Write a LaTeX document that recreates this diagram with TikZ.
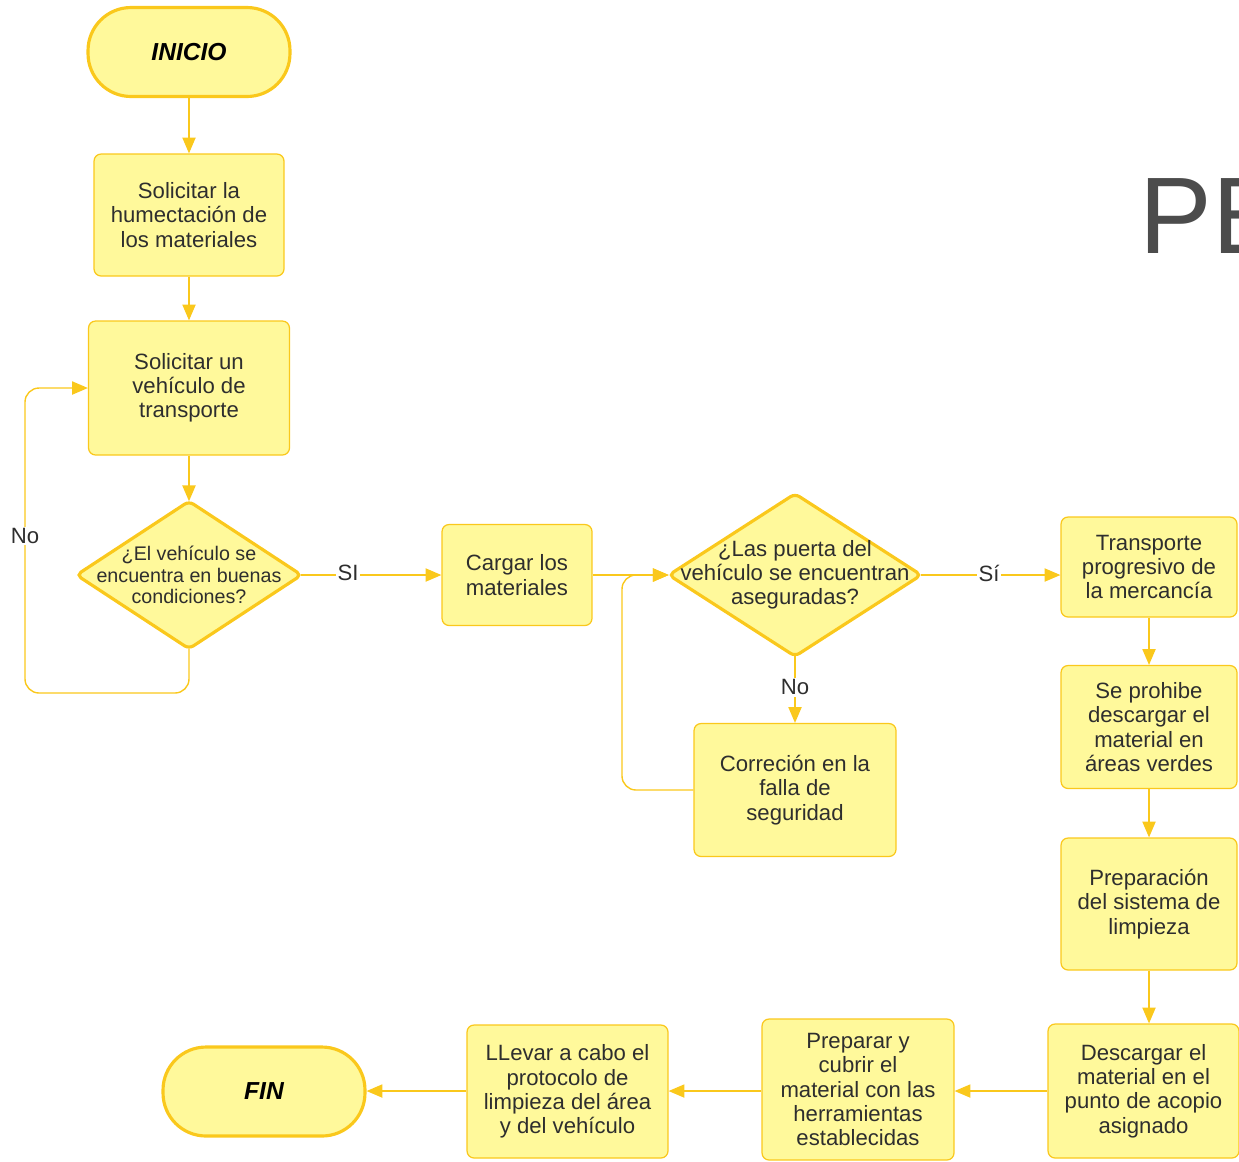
\documentclass[tikz,border=0pt]{standalone}
\usepackage{fontspec}
\setmainfont{Liberation Sans}
\usetikzlibrary{shapes.geometric,arrows.meta,positioning}
\definecolor{flowgold}{HTML}{FAC81C}
\definecolor{flowfill}{HTML}{FFF99B}
\definecolor{flowtext}{HTML}{2E2E2E}
\tikzset{
    step-box/.style = {draw=flowgold, fill=flowfill, line width=0.7pt, rectangle, rounded corners=4pt, align=center, inner sep=3pt, text=flowtext, font=\fontsize{12.6}{13.8}\selectfont},
    end-box/.style = {draw=flowgold, fill=flowfill, line width=1.8pt, rectangle, rounded corners=0.86cm, minimum width=4.04cm, minimum height=1.78cm, font=\fontsize{14}{16}\selectfont\bfseries\itshape},
    ask-shape/.style = {draw=flowgold, fill=flowfill, line width=1.8pt, diamond, rounded corners=3pt, inner sep=0pt, outer sep=0pt},
    ask-text/.style = {align=center, inner sep=0pt, text=flowtext},
    flow-line/.style = {draw=flowgold, line width=0.8pt, -{Triangle[length=9pt,width=7.5pt]}},
    loop-line/.style = {flow-line, rounded corners=8pt},
    answer/.style = {fill=white, inner sep=1pt, text=flowtext, font=\fontsize{12.6}{13.8}\selectfont},
}

\begin{document}
\begin{tikzpicture}[x=0.02cm, y=-0.02cm]
\useasboundingbox (0,0) rectangle (1239,1161);
\node[anchor=base west, inner sep=0pt, text=black!70, font=\fontsize{62}{62}\selectfont] (title) at (1139,253) {PE};

% left column
\node[end-box] (inicio) at (189,52) {INICIO};
\node[step-box, minimum width=3.8cm, minimum height=2.44cm] (humectar) at (189,215) {Solicitar la\\humectación de\\los materiales};
\node[step-box, minimum width=4.02cm, minimum height=2.68cm] (vehiculo) at (189,388) {Solicitar un\\vehículo de\\transporte};
\node[ask-shape, minimum width=4.5cm, minimum height=2.95cm] (bueno) at (189,575) {};
\node[ask-text, font=\fontsize{11.2}{12.2}\selectfont] (bueno-text) at (bueno.center) {¿El vehículo se\\encuentra en buenas\\condiciones?};

% middle row
\node[step-box, minimum width=3.0cm, minimum height=2.02cm] (cargar) at (517,575) {Cargar los\\materiales};
\node[ask-shape, minimum width=5.05cm, minimum height=3.25cm] (puerta) at (795,575) {};
\node[ask-text, font=\fontsize{12.6}{13.8}\selectfont] (puerta-text) at (puerta.center) {¿Las puerta del\\vehículo se encuentran\\aseguradas?};
\node[step-box, minimum width=4.04cm, minimum height=2.66cm] (correccion) at (795,790) {Correción en la\\falla de\\seguridad};

% right column
\node[step-box, minimum width=3.52cm, minimum height=2.0cm] (transporte) at (1149,567) {Transporte\\progresivo de\\la mercancía};
\node[step-box, minimum width=3.52cm, minimum height=2.46cm] (prohibir) at (1149,727) {Se prohibe\\descargar el\\material en\\áreas verdes};
\node[step-box, minimum width=3.52cm, minimum height=2.64cm] (limpieza) at (1149,904) {Preparación\\del sistema de\\limpieza};
\node[step-box, minimum width=3.82cm, minimum height=2.68cm] (descargar) at (1143.5,1091) {Descargar el\\material en el\\punto de acopio\\asignado};

% bottom row
\node[step-box, minimum width=3.84cm, minimum height=2.82cm] (cubrir) at (858,1089.5) {Preparar y\\cubrir el\\material con las\\herramientas\\establecidas};
\node[step-box, minimum width=4.02cm, minimum height=2.66cm] (protocolo) at (567.5,1091.5) {LLevar a cabo el\\protocolo de\\limpieza del área\\y del vehículo};
\node[end-box] (fin) at (264,1091.5) {FIN};

% connectors
\coordinate (no-loop) at (25,693);
\coordinate (fix-turn) at (622,575);
\draw[flow-line] (inicio) -- (humectar);
\draw[flow-line] (humectar) -- (vehiculo);
\draw[flow-line] (vehiculo) -- (bueno);
\draw[loop-line] (bueno.south) |- (no-loop) |- (vehiculo.west);
\draw[flow-line] (bueno.east) -- (cargar.west);
\draw[flow-line] (cargar.east) -- (puerta.west);
\draw[flow-line] (puerta.south) -- (correccion.north);
\draw[loop-line] (correccion.west) -| (fix-turn) -- (puerta.west);
\draw[flow-line] (puerta.east) -- (puerta.east -| transporte.west);
\draw[flow-line] (transporte) -- (prohibir);
\draw[flow-line] (prohibir) -- (limpieza);
\draw[flow-line] (limpieza.south) -- (limpieza.south |- descargar.north);
\draw[flow-line] (descargar.west) -- (descargar.west -| cubrir.east);
\draw[flow-line] (cubrir.west |- descargar.west) -- (protocolo.east |- descargar.west);
\draw[flow-line] (protocolo.west |- descargar.west) -- (fin.east |- descargar.west);

% answers on the lines
\node[answer] (no-left) at (25,536) {No};
\node[answer] (si-first) at (348,573) {SI};
\node[answer] (no-door) at (795,687) {No};
\node[answer] (si-door) at (989,573) {Sí};
\end{tikzpicture}
\end{document}
